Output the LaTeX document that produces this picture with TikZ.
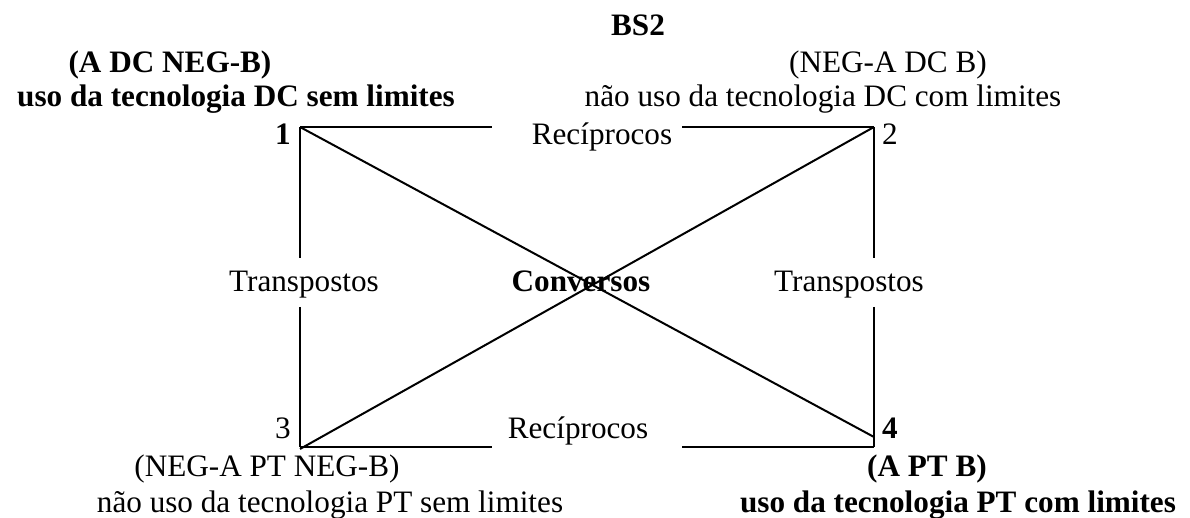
\documentclass[tikz,border=0pt]{standalone}
\usepackage{fontspec}
\setmainfont{Liberation Serif}
\begin{document}
\begin{tikzpicture}[x=0.5pt, y=-0.5pt, line width=1pt,
        every node/.style={font=\fontsize{15.6}{18}\selectfont, inner sep=0pt, anchor=base},
        bf/.style={font=\fontsize{15.6}{18}\selectfont\bfseries}]
    \useasboundingbox (0,0) rectangle (1190,518);
    % corners of the square
    \coordinate (c1) at (300,127);
    \coordinate (c2) at (874,127);
    \coordinate (c3) at (300,447);
    \coordinate (c4) at (874,447);
    \coordinate (d3) at (300,449);
    \coordinate (d4) at (874,437);
    % gaps for the labels
    \coordinate (t1) at (492,127);
    \coordinate (t2) at (682,127);
    \coordinate (b1) at (492,447);
    \coordinate (b2) at (682,447);
    \coordinate (l1) at (300,258);
    \coordinate (l2) at (300,307);
    \coordinate (r1) at (874,258);
    \coordinate (r2) at (874,307);
    % title and corner texts
    \node[bf] (title) at (638,36) {BS2};
    \node[bf] (head1) at (170,73) {(A DC NEG-B)};
    \node[bf] (desc1) at (236,107) {uso da tecnologia DC sem limites};
    \node (head2) at (888,73) {(NEG-A DC B)};
    \node (desc2) at (823,107) {não uso da tecnologia DC com limites};
    \node (head3) at (267,477) {(NEG-A PT NEG-B)};
    \node (desc3) at (330,512) {não uso da tecnologia PT sem limites};
    \node[bf] (head4) at (927,477) {(A PT B)};
    \node[bf] (desc4) at (958,512) {uso da tecnologia PT com limites};
    % numbers
    \node[bf] (n1) at (283,145) {1};
    \node (n2) at (890,145) {2};
    \node (n3) at (283,438) {3};
    \node[bf] (n4) at (890,438) {4};
    % relations
    \node (rectop) at (602,145) {Recíprocos};
    \node (recbot) at (578,438) {Recíprocos};
    \node (trleft) at (304,292) {Transpostos};
    \node (trright) at (849,292) {Transpostos};
    \node[bf] (conv) at (581,292) {Conversos};
    % lines
    \draw (c1) -- (t1);
    \draw (t2) -- (c2);
    \draw (c3) -- (b1);
    \draw (b2) -- (c4);
    \draw (c1) -- (l1);
    \draw (l2) -- (c3);
    \draw (c2) -- (r1);
    \draw (r2) -- (c4);
    \draw (c1) -- (d4);
    \draw (c2) -- (d3);
\end{tikzpicture}
\end{document}
